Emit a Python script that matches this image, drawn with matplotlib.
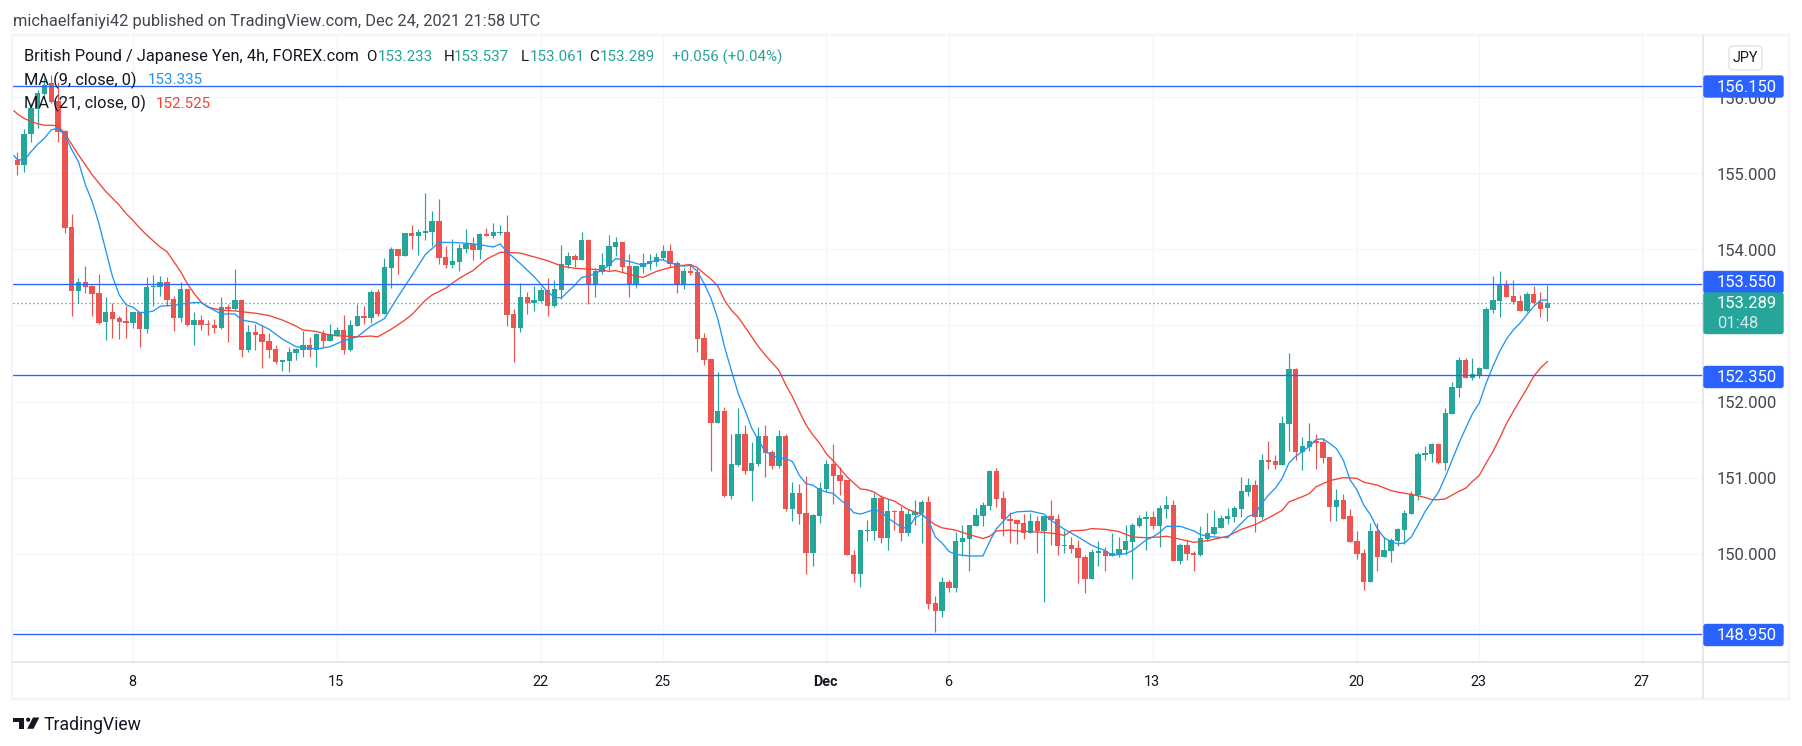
import matplotlib
matplotlib.use("Agg")
import matplotlib.pyplot as plt
from matplotlib.patches import Rectangle, FancyBboxPatch, Polygon, Circle

plt.rcParams['font.family'] = ['Roboto', 'DejaVu Sans']

high = [155.28,155.58,155.92,156.09,156.25,156.29,156.20,155.57,154.46,153.62,
153.78,153.53,153.67,153.37,153.29,153.12,153.26,153.18,153.18,153.64,
153.66,153.65,153.63,153.38,153.57,153.48,153.18,153.14,153.07,153.08,
153.37,153.28,153.74,153.33,153.00,153.02,153.00,152.90,152.74,152.55,
152.72,152.70,152.93,152.85,152.90,152.94,153.02,152.98,153.14,153.07,
153.28,153.25,153.47,153.48,153.89,154.03,154.00,154.21,154.32,154.27,
154.74,154.50,154.66,154.04,154.13,154.07,154.27,154.16,154.21,154.28,
154.35,154.32,154.45,153.22,153.56,153.44,153.52,153.50,153.62,153.60,
154.06,153.96,153.94,154.23,154.13,153.75,153.95,154.19,154.16,154.10,
153.94,153.78,153.95,153.94,153.95,154.06,154.07,153.85,153.75,153.81,
153.75,152.90,152.56,152.39,151.93,151.57,151.91,151.69,151.47,151.67,
151.69,151.36,151.63,151.57,150.94,150.92,151.02,150.52,150.94,151.23,
151.44,151.14,150.97,150.05,150.31,150.44,150.80,150.77,150.72,150.57,
150.63,150.59,150.71,150.71,150.76,149.44,149.69,149.65,150.29,150.38,
150.38,150.60,150.68,151.10,151.13,150.82,150.55,150.46,150.52,150.53,
150.50,150.50,150.71,150.52,150.31,150.22,150.18,149.98,150.06,150.17,
150.09,150.27,150.22,150.38,150.40,150.51,150.56,150.56,150.64,150.76,
150.71,150.14,150.18,150.04,150.36,150.54,150.57,150.51,150.60,150.63,
151.01,150.99,150.97,151.31,151.48,151.30,151.81,152.64,152.44,151.53,
151.72,151.57,151.52,151.27,150.85,150.78,150.59,150.30,150.06,150.40,
150.40,150.22,150.21,150.34,150.57,150.82,151.34,151.42,151.45,151.45,
151.91,152.26,152.58,152.57,152.57,152.45,153.24,153.65,153.71,153.60,
153.60,153.40,153.44,153.52,153.44,153.537]

body_top = [155.18,155.52,155.86,156.06,156.16,156.18,155.95,155.55,154.29,153.57,
153.57,153.52,153.42,153.18,153.18,153.10,153.06,153.18,153.18,153.50,
153.52,153.57,153.57,153.35,153.48,153.48,153.07,153.07,153.02,153.00,
153.24,153.24,153.33,153.33,152.91,152.91,152.89,152.79,152.69,152.55,
152.65,152.69,152.74,152.74,152.89,152.89,152.89,152.94,152.94,153.00,
153.12,153.12,153.44,153.44,153.77,154.00,154.00,154.21,154.21,154.23,
154.24,154.37,154.37,153.90,153.85,154.02,154.07,154.07,154.20,154.20,
154.23,154.23,154.23,153.15,153.37,153.37,153.33,153.47,153.47,153.48,
153.81,153.91,153.91,154.12,154.12,153.71,153.79,154.04,154.10,154.10,
153.78,153.78,153.82,153.85,153.90,153.98,153.98,153.82,153.72,153.71,
153.70,152.84,152.56,151.88,151.88,151.18,151.57,151.57,151.19,151.55,
151.55,151.34,151.55,151.55,150.80,150.80,150.53,150.51,150.86,151.18,
151.18,151.03,150.97,149.98,150.31,150.31,150.73,150.73,150.56,150.56,
150.56,150.52,150.55,150.68,150.68,149.35,149.63,149.63,150.17,150.21,
150.38,150.51,150.64,151.09,151.09,150.73,150.46,150.44,150.40,150.43,
150.43,150.50,150.50,150.46,150.11,150.11,150.07,149.96,150.02,150.04,
150.04,150.01,150.06,150.17,150.38,150.47,150.48,150.48,150.60,150.64,
150.64,150.11,150.11,150.01,150.21,150.27,150.35,150.47,150.50,150.60,
150.82,150.90,150.90,151.23,151.23,151.22,151.72,152.43,152.43,151.41,
151.48,151.48,151.47,151.27,150.71,150.71,150.50,150.17,150.01,150.30,
150.30,150.05,150.18,150.32,150.53,150.78,151.31,151.32,151.44,151.44,
151.85,152.19,152.55,152.55,152.36,152.44,153.22,153.33,153.53,153.53,
153.39,153.32,153.41,153.41,153.31,153.289]

body_bottom = [155.11,155.11,155.52,155.84,156.04,155.94,155.54,154.28,153.45,153.45,
153.51,153.41,153.03,153.04,153.08,153.05,153.03,153.03,152.95,152.95,
153.50,153.51,153.33,153.10,153.10,153.00,153.00,153.00,153.00,152.97,
152.97,153.21,153.22,152.68,152.68,152.87,152.78,152.68,152.52,152.52,
152.53,152.64,152.68,152.68,152.68,152.79,152.79,152.87,152.68,152.68,
152.99,153.10,153.10,153.15,153.15,153.75,153.91,153.91,154.17,154.17,
154.21,154.23,153.89,153.79,153.79,153.83,154.00,153.99,153.99,154.17,
154.17,154.21,153.14,152.97,152.97,153.29,153.29,153.32,153.25,153.25,
153.47,153.79,153.86,153.86,153.53,153.53,153.70,153.78,154.03,153.77,
153.53,153.53,153.77,153.81,153.83,153.89,153.81,153.54,153.54,153.69,
152.82,152.55,151.72,151.72,150.76,150.76,151.17,151.09,151.09,151.18,
151.32,151.15,151.15,150.59,150.59,150.52,150.01,150.01,150.50,150.85,
151.02,150.96,149.98,149.73,149.73,150.30,150.30,150.21,150.21,150.55,
150.27,150.27,150.51,150.54,149.34,149.25,149.25,149.55,149.55,150.15,
150.19,150.37,150.50,150.63,150.72,150.46,150.43,150.39,150.27,150.27,
150.30,150.30,150.44,150.10,150.10,150.06,149.94,149.67,149.67,150.01,
149.97,149.97,149.98,150.05,150.15,150.36,150.46,150.36,150.36,150.59,
149.90,149.90,150.00,149.98,149.98,150.19,150.26,150.34,150.46,150.48,
150.59,150.81,150.48,150.48,151.20,151.17,151.17,151.70,151.34,151.34,
151.40,151.45,151.26,150.61,150.61,150.46,150.15,150.00,149.63,149.63,
149.96,149.96,150.04,150.17,150.31,150.52,150.77,151.30,151.31,151.19,
151.19,151.83,152.18,152.31,152.31,152.33,152.43,153.20,153.32,153.37,
153.31,153.19,153.19,153.29,153.22,153.233]

low = [154.98,155.02,155.41,155.60,156.00,155.92,155.41,154.22,153.12,153.29,
153.42,153.12,153.02,152.81,152.84,152.82,152.83,152.96,152.72,152.90,
153.25,153.38,153.26,152.92,153.05,152.99,152.74,152.94,152.87,152.90,
152.95,152.78,153.20,152.59,152.65,152.68,152.44,152.57,152.49,152.40,
152.39,152.55,152.59,152.59,152.45,152.72,152.79,152.86,152.62,152.66,
152.99,153.02,153.03,153.12,153.15,153.49,153.68,153.91,154.00,153.93,
154.12,154.04,153.81,153.75,153.75,153.71,153.95,153.86,153.87,154.17,
154.15,154.19,152.99,152.52,152.91,153.15,153.19,153.31,153.12,153.24,
153.35,153.75,153.77,153.86,153.28,153.37,153.68,153.73,153.91,153.70,
153.37,153.49,153.69,153.73,153.78,153.86,153.77,153.43,153.48,153.66,
152.65,152.48,151.09,151.72,150.75,150.72,151.15,151.05,150.69,151.15,
151.01,151.11,151.13,150.56,150.43,150.39,149.73,149.84,150.40,150.81,
150.65,150.77,149.98,149.63,149.56,150.17,150.18,150.14,150.05,150.31,
150.17,150.23,150.38,150.14,149.27,148.97,149.17,149.50,149.50,149.97,
149.77,150.37,150.37,150.57,150.61,150.23,150.14,150.13,150.19,150.27,
150.01,149.37,150.11,149.98,150.01,150.01,149.61,149.48,149.67,149.84,
149.77,149.97,149.96,149.98,149.67,150.35,150.05,150.32,150.09,150.47,
149.90,149.86,149.92,149.77,149.97,150.17,150.25,150.34,150.39,150.42,
150.48,150.76,150.28,150.46,151.11,151.11,151.17,151.35,151.23,151.10,
151.35,151.11,151.19,150.43,150.43,150.46,150.15,149.93,149.52,149.63,
149.77,149.96,149.89,150.10,150.13,150.52,150.71,151.23,151.20,151.18,
151.10,151.83,152.06,152.31,152.28,152.31,152.43,153.16,153.11,153.37,
153.28,153.19,153.18,153.28,153.11,153.061]

direction = ("rggggrrrrg" "rrrgrrrgrg" "ggrrgrgrrr" "grgrgrrrrg" "gggrgrggrg"
             "grgrggrgrg" "ggrrgggrgr" "ggrrgrggrg" "ggrgrggggr" "rgggggrrgr"
             "rrrgrggrgg" "rrgrgrrggg" "rrrrgggrgr" "rgggrrgrgg" "ggggrrrrrg"
             "rgrrgrrrgg" "rggggggrgg" "rgrrgggggg" "ggrgrrggrg" "grrrgrrrrg"
             "rggggggggr" "gggrgggggr" "rrgrrg")

ma9_points = [(0.5,155.23),(1,155.18),(2,155.17),(3,155.28),(4,155.38),(5,155.46),(6,155.57),(7,155.59),
(8,155.50),(9,155.31),(10,155.15),(11,154.85),(12,154.63),(13,154.34),(14,153.99),(15,153.64),(16,153.40),
(17,153.27),(18,153.24),(19,153.17),(20,153.17),(21,153.19),(22,153.25),(23,153.26),(24,153.26),(25,153.28),
(26,153.29),(27,153.30),(28,153.30),(29,153.25),(29.5,153.22),(31,153.15),(33,153.15),(34,153.07),(36,153.04),
(38,152.95),(40,152.82),(42,152.72),(43,152.71),(45,152.69),(47,152.72),(49,152.80),(51,152.85),(53,152.99),
(55,153.09),(57,153.38),(59,153.65),(61,153.93),(63,154.09),(65,154.09),(67,154.08),(69,154.06),(71,154.03),
(72,154.07),(73,153.97),(75,153.81),(77,153.64),(79,153.44),(80,153.37),(81,153.36),(83,153.53),(84,153.63),
(85,153.65),(86,153.68),(87,153.73),(88,153.79),(89,153.88),(91,153.84),(93,153.79),(95,153.86),(96,153.86),
(97,153.82),(99,153.78),(100,153.79),(101,153.71),(102,153.55),(103,153.36),(104,153.09),(105,152.72),(106,152.41),
(107,152.11),(108,151.89),(109,151.65),(110,151.49),(111,151.34),(113,151.25),(114,151.25),(115,151.21),(116,151.03),
(117,150.92),(118,150.90),(119,150.84),(120,150.81),(121,150.79),(122,150.71),(123,150.64),(124,150.54),(125,150.52),
(127,150.58),(128,150.55),(129,150.47),(131,150.35),(132,150.33),(133,150.47),(134,150.52),(135,150.44),(136,150.22),
(137,150.14),(138,150.03),(139,149.99),(141,149.97),(143,149.97),(144,150.16),(145,150.33),(147,150.52),(148,150.55),
(150,150.56),(152,150.52),(153,150.44),(154,150.38),(155,150.32),(157,150.22),(159,150.11),(161,150.04),(162,149.98),
(164,150.00),(165,150.04),(166,150.11),(167,150.18),(168,150.22),(169,150.28),(170,150.36),(172,150.36),(174,150.30),
(175,150.25),(176,150.23),(177,150.22),(179,150.21),(180,150.31),(181,150.40),(182,150.49),(183,150.52),(184,150.66),
(185,150.77),(186,150.86),(187,150.99),(188,151.19),(189,151.28),(191,151.41),(192,151.50),(193,151.51),(194,151.45),
(195,151.38),(196,151.23),(197,150.97),(198,150.84),(199,150.64),(200,150.51),(201,150.33),(202,150.21),(203,150.16),
(204,150.13),(205,150.14),(206,150.22),(207,150.38),(208,150.55),(209,150.68),(210,150.81),(211,151.01),(212,151.23),
(213,151.45),(214,151.65),(215,151.84),(216,151.98),(217,152.24),(218,152.46),(219,152.66),(220,152.82),(221,152.94),
(222,153.03),(223,153.14),(224,153.25),(225,153.33),(226,153.335)]

ma21_points = [(0.5,155.82),(1,155.78),(2,155.72),(3,155.68),(4,155.65),(5,155.63),(6,155.63),(7,155.62),(8,155.52),
(9,155.38),(10,155.24),(11,155.11),(12,154.98),(13,154.87),(14,154.76),(15,154.67),(16,154.58),(17,154.47),(18,154.38),
(19,154.28),(20,154.19),(21,154.11),(22,154.03),(23,153.97),(24,153.84),(25,153.71),(26,153.55),(27,153.42),(28,153.31),
(29,153.24),(31,153.20),(33,153.19),(34,153.18),(36,153.16),(38,153.13),(40,153.07),(42,152.99),(43,152.94),(45,152.92),
(47,152.87),(49,152.86),(51,152.85),(53,152.86),(54,152.85),(56,152.95),(58,153.07),(59,153.14),(61,153.33),(62,153.40),
(64,153.49),(66,153.62),(68,153.72),(70,153.87),(72,153.96),(73,153.96),(75,153.95),(77,153.90),(79,153.85),(81,153.78),
(83,153.75),(85,153.74),(87,153.73),(88,153.71),(89,153.72),(91,153.67),(92,153.65),(93,153.63),(95,153.71),(97,153.76),
(99,153.79),(100,153.80),(101,153.76),(102,153.68),(103,153.61),(104,153.52),(105,153.33),(106,153.20),(107,153.11),
(108,152.98),(109,152.85),(110,152.72),(111,152.61),(112,152.51),(113,152.41),(114,152.22),(115,152.06),(116,151.87),
(117,151.69),(118,151.56),(119,151.45),(120,151.31),(121,151.22),(122,151.12),(123,151.01),(124,150.93),(125,150.85),
(126,150.84),(127,150.81),(128,150.75),(130,150.69),(132,150.58),(134,150.52),(135,150.44),(136,150.38),(137,150.34),
(139,150.31),(141,150.25),(143,150.20),(144,150.23),(145,150.30),(147,150.31),(148,150.30),(150,150.29),(152,150.28),
(154,150.26),(155,150.24),(156,150.30),(158,150.31),(159,150.33),(161,150.32),(163,150.29),(165,150.22),(167,150.21),
(169,150.22),(170,150.23),(172,150.19),(174,150.15),(176,150.17),(177,150.19),(179,150.23),(181,150.32),(183,150.38),
(185,150.47),(187,150.57),(188,150.68),(190,150.75),(191,150.79),(192,150.88),(194,150.96),(196,151.00),(198,150.99),
(199,150.94),(201,150.90),(203,150.83),(204,150.81),(206,150.78),(207,150.76),(208,150.74),(209,150.71),(210,150.71),
(211,150.72),(212,150.77),(213,150.82),(214,150.86),(215,150.95),(216,151.03),(217,151.19),(218,151.34),(219,151.52),
(220,151.71),(221,151.87),(222,152.02),(223,152.17),(224,152.33),(225,152.44),(226,152.525)]

levels = [156.15, 153.55, 152.35, 148.95]
last_price = 153.289
price_ticks = [156, 155, 154, 153, 152, 151, 150, 149]
price_labels = {156: "156.000", 155: "155.000", 154: "154.000", 152: "152.000", 151: "151.000", 150: "150.000"}
date_pos = [17, 47, 77, 95, 119, 137, 167, 197, 215, 239]
date_labels = ["8", "15", "22", "25", "Dec", "6", "13", "20", "23", "27"]

W, H = 1802, 746
UP, DOWN = "#26a69a", "#ef5350"
BLUE_LINE = "#2962ff"
GRID = "#f3f5fa"
AXIS = "#e0e3eb"
INK = "#131722"

fig = plt.figure(figsize=(W / 100, H / 100), dpi=100, facecolor="white")

def box(l, t, r, b):
    return [l / W, 1 - b / H, (r - l) / W, (b - t) / H]

ax = fig.add_axes(box(13, 36, 1703, 662))
ax.set_xlim((13 - 17.3) / 6.8, (1703 - 17.3) / 6.8)
ax.set_ylim(154 - (662 - 249.3) / 76.1, 154 + (249.3 - 36) / 76.1)
for s in ax.spines.values():
    s.set_visible(False)
ax.set_xticks([])
ax.set_yticks([])
ax.set_zorder(1)

for v in price_ticks:
    ax.axhline(v, color=GRID, lw=1.0, zorder=1)
for p in date_pos:
    ax.axvline(p, color=GRID, lw=1.0, zorder=1)

xs = list(range(len(high)))
colors = [UP if d == "g" else DOWN for d in direction]
ax.vlines(xs, low, high, colors=colors, lw=0.85, zorder=2)
ax.bar(xs, [t - b for t, b in zip(body_top, body_bottom)], bottom=body_bottom,
       width=0.78, color=colors, linewidth=0, zorder=3)

ax.plot([n - 1 for n, _ in ma21_points], [v for _, v in ma21_points], color="#f44336", lw=0.95, zorder=4)
ax.plot([n - 1 for n, _ in ma9_points], [v for _, v in ma9_points], color="#2196f3", lw=0.95, zorder=5)

for v in levels:
    ax.axhline(v, color=BLUE_LINE, lw=0.95, zorder=6)
ax.axhline(last_price, color=UP, lw=0.9, ls=(0, (1, 2.2)), zorder=6)

ov = fig.add_axes([0, 0, 1, 1], facecolor="none")
ov.set_xlim(0, W)
ov.set_ylim(H, 0)
ov.axis("off")
ov.set_zorder(2)

def py(v):
    return 249.3 - 76.1 * (v - 154)

# frame and scales
ov.add_patch(Rectangle((12, 35), 1777, 664, fill=False, ec=GRID, lw=1.6))
ov.plot([13, 1788], [662, 662], color=AXIS, lw=1.2)
ov.plot([1703, 1703], [36, 698], color=AXIS, lw=1.2)

SMALL = 10.4
LABEL = 11.8
PRICE = 12.0
for v, t in price_labels.items():
    ov.text(1717, py(v) + 2, t, color="#434651", fontsize=PRICE, va="center", ha="left")
for p, t in zip(date_pos, date_labels):
    ov.text(16.5 + 6.8 * p, 681.5, t, color=INK, fontsize=SMALL,
            fontweight="bold" if t == "Dec" else "normal", va="center", ha="center")

# price tags
for v, cy in zip(levels, [86.5, 282, 377, 635]):
    ov.add_patch(FancyBboxPatch((1704, cy - 10.5), 79, 21, boxstyle="round,pad=0,rounding_size=2",
                                fc=BLUE_LINE, ec=BLUE_LINE, lw=1, zorder=5))
    ov.text(1717, cy + 0.5, f"{v:.3f}", color="white", fontsize=PRICE, va="center", ha="left", zorder=6)
ov.add_patch(FancyBboxPatch((1704, 293), 79, 40.5, boxstyle="round,pad=0,rounding_size=2",
                            fc=UP, ec=UP, lw=1, zorder=5))
ov.text(1717, 304, "153.289", color="white", fontsize=PRICE, va="center", ha="left", zorder=6)
ov.text(1717, 323.5, "01:48", color="#cdebe8", fontsize=PRICE, va="center", ha="left", zorder=6)

# JPY button
ov.add_patch(FancyBboxPatch((1729, 46), 33, 24, boxstyle="round,pad=0,rounding_size=4", fc="white", ec=AXIS, lw=1))
ov.text(1745.5, 58, "JPY", color=INK, fontsize=SMALL, va="center", ha="center")

# header
ov.text(13, 20.5, "michaelfaniyi42 published on TradingView.com, Dec 24, 2021 21:58 UTC",
        color="#434651", fontsize=LABEL, va="center", ha="left")
ov.text(24, 57, "British Pound / Japanese Yen, 4h, FOREX.com", color=INK, fontsize=LABEL, va="center", ha="left")
for x, t, c in [(366, "O", INK), (378, "153.233", UP), (444, "H", INK), (454, "153.537", UP),
                (521, "L", INK), (530, "153.061", UP), (589, "C", INK), (600, "153.289", UP),
                (672, "+0.056 (+0.04%)", UP)]:
    ov.text(x, 57, t, color=c, fontsize=SMALL + 0.5, va="center", ha="left")
ov.text(24, 80, "MA (9, close, 0)", color=INK, fontsize=LABEL, va="center", ha="left")
ov.text(148, 80, "153.335", color="#2196f3", fontsize=SMALL + 0.5, va="center", ha="left")
ov.text(24, 103.5, "MA (21, close, 0)", color=INK, fontsize=LABEL, va="center", ha="left")
ov.text(156, 103.5, "152.525", color="#f44336", fontsize=SMALL + 0.5, va="center", ha="left")

# footer logo
ov.add_patch(Rectangle((13.4, 717.5), 11, 4.2, fc=INK, ec="none"))
ov.add_patch(Rectangle((18.5, 717.5), 5.9, 11.3, fc=INK, ec="none"))
ov.add_patch(Circle((28.2, 719.7), 2.1, fc=INK, ec="none"))
ov.add_patch(Polygon([[33, 717.5], [39.3, 717.5], [33.5, 728.8], [27.2, 728.8]], fc=INK, ec="none"))
ov.text(44, 724.5, "TradingView", color=INK, fontsize=12.7, va="center", ha="left")

fig.savefig("out.png", dpi=100)
